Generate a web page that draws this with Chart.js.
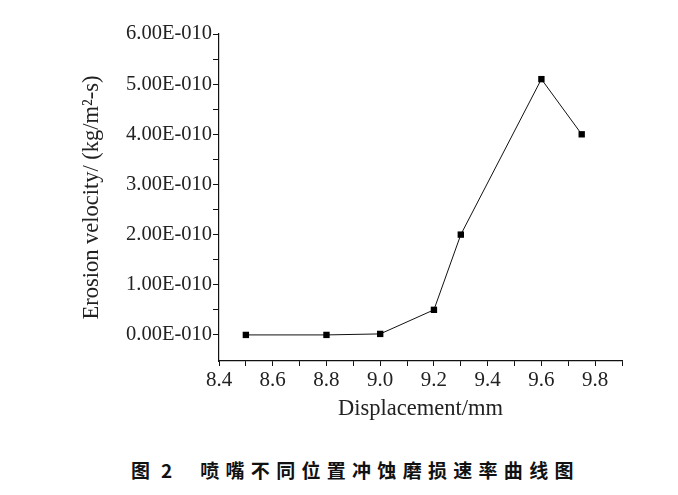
<!DOCTYPE html>
<html>
<head>
<meta charset="utf-8">
<script src="https://cdn.jsdelivr.net/npm/chart.js@4/dist/chart.umd.min.js"></script>
<style>
  html, body { margin: 0; padding: 0; background: #fff; }
  #wrap { position: relative; width: 678px; height: 495px; }
  #chart { position: absolute; left: 0; top: 0; }
  #caption {
    position: absolute; left: 131px; top: 458px;
    font-family: "Noto Sans CJK SC", sans-serif; font-weight: bold;
    font-size: 19px; line-height: 24px; color: #111; white-space: pre;
  }
  #caption .num { margin-left: 11px; }
  #caption .txt { letter-spacing: 6.3px; margin-left: 28px; }
</style>
</head>
<body>
<div id="wrap">
  <canvas id="chart" width="678" height="423"></canvas>
  <div id="caption"><span>图</span><span class="num">2</span><span class="txt">喷嘴不同位置冲蚀磨损速率曲线图</span></div>
</div>
<script>
// displacement (mm) and erosion velocity (kg/m2-s)
const displacement = [8.5, 8.8, 9.0, 9.2, 9.3, 9.6, 9.75];
const erosion = [0, 0, 0.02e-10, 0.5e-10, 2.0e-10, 5.1e-10, 4.0e-10];

// axis ticks: labelled ones plus minor ones in between
const xTicks = [8.4, 8.5, 8.6, 8.7, 8.8, 8.9, 9.0, 9.1, 9.2, 9.3, 9.4, 9.5, 9.6, 9.7, 9.8, 9.9];
const xLabels = [8.4, 8.6, 8.8, 9.0, 9.2, 9.4, 9.6, 9.8];
const yTicks = [0, 0.5, 1, 1.5, 2, 2.5, 3, 3.5, 4, 4.5, 5, 5.5, 6].map(v => v * 1e-10);

const serif = "'Liberation Serif', 'Times New Roman', serif";

const isLabelled = (v) => xLabels.some(l => Math.abs(l - v) < 1e-6);
const isWholeY = (v) => Math.abs(Math.round(v * 1e10) - v * 1e10) < 1e-6;

new Chart(document.getElementById("chart"), {
  type: "scatter",
  data: {
    datasets: [{
      data: displacement.map((x, i) => ({ x: x, y: erosion[i] })),
      showLine: true,
      borderColor: "#111",
      borderWidth: 1,
      backgroundColor: "#000",
      pointStyle: "rect",
      pointRadius: 4.5,
      pointBorderWidth: 0,
    }],
  },
  options: {
    responsive: false,
    animation: false,
    layout: { padding: { left: 70, top: 34, right: 56, bottom: 0 } },
    plugins: { legend: { display: false }, tooltip: { enabled: false } },
    scales: {
      x: {
        type: "linear",
        min: 8.4,
        max: 9.9,
        afterBuildTicks: (axis) => { axis.ticks = xTicks.map(v => ({ value: v })); },
        afterFit: (axis) => { axis.height = 62; },
        grid: {
          drawOnChartArea: false,
          tickLength: 5,
          tickColor: "#111",
          tickWidth: 1,
        },
        border: { color: "#111", width: 1.2 },
        ticks: {
          autoSkip: false,
          maxRotation: 0,
          padding: 2,
          color: "#222",
          font: { family: serif, size: 21 },
          callback: (v) => isLabelled(v) ? Number(v).toFixed(1) : "",
        },
        title: {
          display: true,
          text: "Displacement/mm",
          color: "#222",
          font: { family: serif, size: 22.5 },
          padding: { top: 0, bottom: 0 },
        },
      },
      y: {
        min: -0.52e-10,
        max: 6e-10,
        afterBuildTicks: (axis) => { axis.ticks = yTicks.map(v => ({ value: v })); },
        afterFit: (axis) => { axis.width = 149; },
        grid: {
          drawOnChartArea: false,
          tickLength: 6,
          tickColor: "#111",
          tickWidth: 1,
        },
        border: { color: "#111", width: 1.2 },
        ticks: {
          autoSkip: false,
          padding: 1,
          color: "#222",
          font: { family: serif, size: 20.5 },
          callback: (v) => isWholeY(v) ? (v * 1e10).toFixed(2) + "E-010" : "",
        },
        title: {
          display: true,
          text: "Erosion velocity/ (kg/m²-s)",
          color: "#222",
          font: { family: serif, size: 22.5 },
          padding: { top: 9 },
        },
      },
    },
  },
});
</script>
</body>
</html>
